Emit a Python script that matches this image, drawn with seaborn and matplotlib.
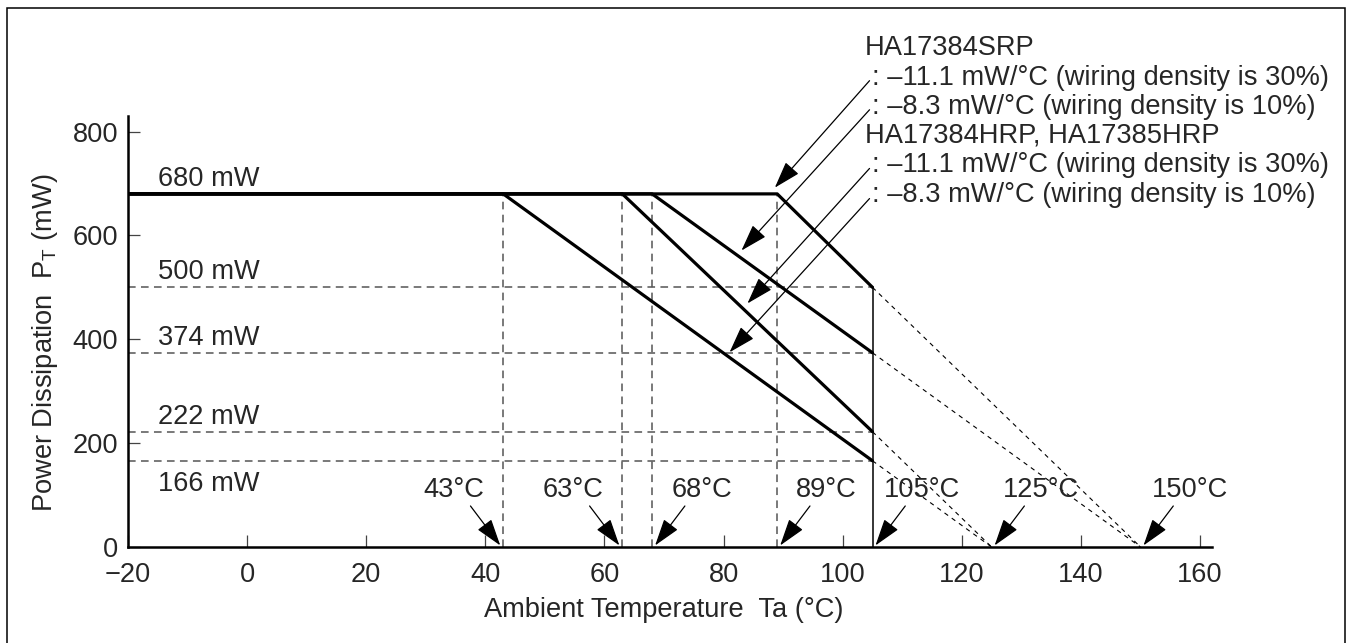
import pandas as pd
import matplotlib.pyplot as plt
import seaborn as sns
from matplotlib.patches import Rectangle

# derating curves (HA17384/HA17385 power dissipation)
max_power = 680
rated_temp = 105
knee_temps = [43, 63, 68, 89]
power_at_105 = [166, 222, 374, 500]
zero_temps = [125, 125, 150, 150]
curve_names = ['HRP 10%', 'HRP 30%', 'SRP 10%', 'SRP 30%']

temp_marks = [43, 63, 68, 89, 105, 125, 150]
power_marks = [680, 500, 374, 222, 166]

legend_lines = ['HA17384SRP',
                ': \u201311.1 mW/\u00b0C (wiring density is 30%)',
                ': \u20138.3 mW/\u00b0C (wiring density is 10%)',
                'HA17384HRP, HA17385HRP',
                ': \u201311.1 mW/\u00b0C (wiring density is 30%)',
                ': \u20138.3 mW/\u00b0C (wiring density is 10%)']

rows = []
for name, knee, p in zip(curve_names, knee_temps, power_at_105):
    rows.append((name, -20, max_power))
    rows.append((name, knee, max_power))
    rows.append((name, rated_temp, p))
df = pd.DataFrame(rows, columns=['curve', 'Ta', 'PT'])

sns.set_style('ticks', {'xtick.direction': 'in', 'ytick.direction': 'in'})
plt.rcParams['font.family'] = ['Liberation Sans', 'DejaVu Sans']
plt.rcParams['mathtext.fontset'] = 'custom'
plt.rcParams['mathtext.rm'] = 'Liberation Sans'
plt.rcParams['mathtext.it'] = 'Liberation Sans'
FS = 19.6

fig = plt.figure(figsize=(13.49, 6.43), dpi=100)
ax = fig.add_axes([128 / 1349, 1 - 547 / 643, (1212 - 128) / 1349, (547 - 116) / 643])

# guide lines
for knee in knee_temps:
    ax.plot([knee, knee], [0, max_power], ls=(0, (5, 3.5)), color='#555555', lw=1.1, zorder=1)
for p in power_at_105:
    ax.plot([-20, rated_temp], [p, p], ls=(0, (5, 3.5)), color='#555555', lw=1.1, zorder=1)
ax.plot([rated_temp, rated_temp], [0, max(power_at_105)], color='black', lw=1.1, zorder=1)

# extrapolation to zero power
for p, tz in zip(power_at_105, zero_temps):
    ax.plot([rated_temp, tz], [p, 0], ls=(0, (4, 4)), color='black', lw=0.8, zorder=1)

sns.lineplot(data=df, x='Ta', y='PT', units='curve', estimator=None,
             color='black', lw=2.3, ax=ax, zorder=3)

# power labels
for p in power_marks:
    off = -45 if p == min(power_marks) else 29
    ax.text(-15, p + off, f'{p} mW', fontsize=FS, va='center', ha='left')

# temperature labels + arrows
arrow_kw = dict(arrowstyle='-|>,head_length=1.4,head_width=0.45', color='black',
                lw=0.9, shrinkA=0, shrinkB=0, mutation_scale=12)
for t in temp_marks:
    d = -1 if t in (43, 63) else 1
    ax.text(t + d * 8.3, 110, f'{t}\u00b0C', fontsize=FS, ha='center', va='center')
    ax.annotate('', xy=(t + d * 0.5, 3), xytext=(t + d * 5.5, 79),
                arrowprops=arrow_kw, annotation_clip=False)

# part number notes
note_y = [961, 904, 848, 792, 735, 677]
for i, (txt, y) in enumerate(zip(legend_lines, note_y)):
    x = 103.7 if i in (0, 3) else 104.9
    ax.text(x, y, txt, fontsize=FS, ha='left', va='center', clip_on=False)


def derate(x, knee, p):
    if x <= knee:
        return max_power
    return max_power - (max_power - p) * (x - knee) / (rated_temp - knee)


# arrows from note lines to the curves: rows 1,2,4,5 -> SRP30, SRP10, HRP30, HRP10
targets = [(1, 3, 88.6, 12), (2, 2, 83.0, 15), (4, 1, 84.0, 18), (5, 0, 81.0, 10)]
for row, ci, hx, off in targets:
    hy = derate(hx, knee_temps[ci], power_at_105[ci]) + off
    ax.annotate('', xy=(hx, hy), xytext=(104.5, note_y[row] - 6),
                arrowprops=arrow_kw, annotation_clip=False)

ax.set_xlim(-20, 162)
ax.set_ylim(0, 830)
ax.set_xticks(range(-20, 161, 20))
ax.set_yticks(range(0, 801, 200))
ax.tick_params(axis='both', labelsize=FS, length=8.6, width=0.9, color='#444444')
ax.tick_params(axis='x', pad=11)
ax.tick_params(axis='y', pad=7)
for s in ['left', 'bottom']:
    ax.spines[s].set_linewidth(1.8)
    ax.spines[s].set_color('black')
sns.despine(ax=ax)
ax.set_xlabel('')
ax.set_ylabel('')

fig.text(664 / 1349, 1 - 610 / 643, 'Ambient Temperature  Ta (\u00b0C)',
         fontsize=FS, ha='center', va='center')
fig.text(45 / 1349, 1 - 343 / 643, 'Power Dissipation  P$_{\\mathrm{T}}$ (mW)',
         fontsize=FS, ha='center', va='center', rotation=90)

fig.patches.append(Rectangle((7 / 1349, -0.02), (1345 - 7) / 1349, 1.02 - 8 / 643,
                             transform=fig.transFigure, fill=False, lw=1.1,
                             edgecolor='black'))

fig.savefig('out.png', dpi=100)
